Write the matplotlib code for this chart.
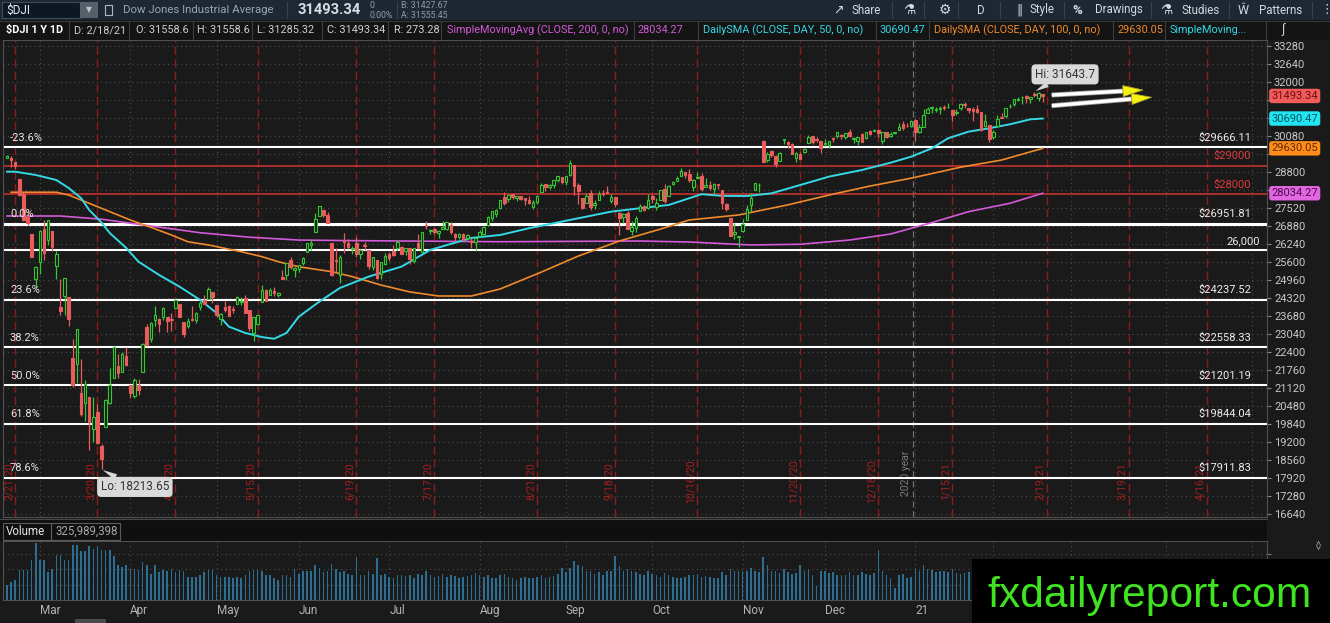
import numpy as np
import pandas as pd
import matplotlib
matplotlib.use("Agg")
import matplotlib.pyplot as plt
from matplotlib.patches import Rectangle, Polygon
from matplotlib.lines import Line2D
from matplotlib.transforms import blended_transform_factory, IdentityTransform

plt.rcParams["font.family"] = ["Roboto", "DejaVu Sans"]

# ---------------- data ----------------
start_day = "2020-02-19"
holidays = ["2020-04-10", "2020-05-25", "2020-07-03", "2020-09-07", "2020-11-26",
            "2020-12-25", "2021-01-01", "2021-01-18", "2021-02-15", "2021-04-02"]

opens = [
    29280, 29280, 29140, 28550, 28020, 27190, 26570, 24980,
    25590, 26760, 26380, 26690, 25460, 24000, 24380, 24360, 22180, 21970, 20930, 20570, 20800, 19650,
    20250, 19030, 19720, 20590, 21470, 21900, 21680, 22250,
    21230, 20820, 21230, 21690, 23280, 22860, 23510, 23550, 23650, 23650, 23580, 23940, 24100, 23440,
    23330, 23560, 23530, 24000, 24230, 24270, 24520,
    24070, 23580, 23990, 24010, 23910, 24080, 24150, 24300, 23870, 23060, 23400, 24180, 24580, 24400,
    24560, 24430, 25050, 25110, 25650, 25300,
    25340, 25560, 25930, 26180, 26640, 27230, 27450, 27250, 26280, 25660, 25120, 26330, 26280, 26040,
    26250, 25870, 26200, 26000, 25410, 25650, 25150, 25510,
    25880, 25970, 26070, 26140, 25970, 26070, 25610, 26250, 25960, 26910, 26700, 26770, 26630, 26780,
    26780, 26900, 26590, 26470, 26570, 26450, 26340, 26300,
    26510, 26590, 26910, 27170, 27280, 27500, 27900, 27820, 27990, 27870, 27940, 27850, 27790, 27560,
    27710, 28070, 28360, 28270, 28330, 28500, 28610,
    28440, 28680, 29040, 28340, 27860, 27690, 28030, 27620, 27790, 28060, 28090, 27770, 27900, 27340,
    27180, 27330, 26700, 26810, 27400, 27590, 27500,
    27940, 27540, 27780, 28200, 27950, 28360, 28480, 28640, 28780, 28730, 28250, 28590, 28650, 28270,
    28330, 28180, 28380, 28140, 27660, 27150, 26600, 26480,
    26690, 27100, 27620, 28160, 28320, 29900, 29230, 29550, 29350, 29190, 29920, 29840, 29780, 29280,
    29440, 29500, 29810, 30060, 29960, 29880,
    29800, 29740, 29980, 30060, 30120, 30030, 30220, 29950, 29880, 30130, 29990, 30250, 30260, 30290,
    29880, 30200, 30060, 30160, 30300, 30490, 30420, 30420,
    30630, 30200, 30400, 30900, 31050, 31000, 31020, 31090, 31090, 31000, 30890, 31050, 31220, 31070,
    31040, 31030, 30910, 30420, 30470,
    30050, 30420, 30740, 30770, 31130, 31200, 31350, 31440, 31490, 31390, 31580, 31430, 31558.6,
]
highs = [
    29410, 29370, 29140, 28550, 28090, 27430, 26570, 25450,
    26710, 27090, 27100, 26690, 25990, 24990, 25020, 24360, 22840, 23190, 22130, 21410, 20800, 20800,
    20530, 19120, 20710, 21830, 22600, 22330, 22380, 22560,
    21230, 21480, 21440, 22700, 23390, 23440, 24010, 23590, 24000, 23650, 23770, 24260, 24100, 23440,
    23610, 24040, 23800, 24190, 24420, 24690, 24520,
    24070, 23770, 24220, 24060, 24010, 24380, 24350, 24400, 23870, 23630, 23690, 24770, 24620, 24650,
    24700, 24520, 25300, 25550, 25760, 25410,
    25500, 25750, 26270, 26390, 27340, 27580, 27450, 27350, 26280, 26090, 25830, 26610, 26390, 26150,
    26480, 26060, 26290, 26000, 25760, 25650, 25600, 25910,
    25950, 26200, 26360, 26170, 26080, 26070, 26080, 26600, 26650, 27030, 26760, 26800, 26710, 27060,
    27010, 27000, 26630, 26620, 26610, 26600, 26430, 26430,
    26730, 26840, 27210, 27390, 27480, 27790, 28070, 28000, 28020, 27940, 27950, 27860, 27920, 27800,
    27960, 28390, 28360, 28360, 28500, 28660, 28620,
    28650, 29200, 29040, 28400, 27860, 28060, 28140, 27780, 28100, 28140, 28290, 27990, 27900, 27380,
    27330, 27390, 27050, 27210, 27660, 27610, 28000,
    28000, 27880, 28150, 28350, 28320, 28470, 28630, 28920, 28790, 28910, 28540, 28790, 28750, 28580,
    28470, 28410, 28380, 28140, 27690, 27150, 26960, 26530,
    27120, 27600, 28030, 28390, 28400, 29930, 29500, 29570, 29390, 29490, 29960, 29900, 29820, 29500,
    29510, 29660, 30120, 30070, 30030, 29880,
    29950, 29880, 30020, 30220, 30130, 30190, 30320, 30020, 30050, 30170, 30200, 30270, 30320, 30290,
    30220, 30220, 30200, 30210, 30520, 30600, 30520, 30640,
    30680, 30500, 31020, 31110, 31150, 31100, 31150, 31180, 31230, 31000, 31020, 31240, 31270, 31070,
    31090, 31160, 30910, 30850, 30470,
    30280, 30800, 30870, 31060, 31210, 31390, 31470, 31500, 31530, 31460, 31643.7, 31620, 31558.6,
]
lows = [
    29280, 28960, 28880, 27930, 27060, 26920, 25760, 24680,
    25170, 25650, 26200, 25980, 24990, 23710, 23690, 23330, 21150, 21290, 20120, 19940, 18920, 19180,
    19120, 18213.65, 19720, 20540, 21470, 21460, 21680, 21890,
    20740, 20740, 20860, 21690, 22600, 22760, 23330, 23090, 23540, 23090, 23150, 23940, 23620, 22940,
    23250, 23480, 23420, 23900, 24080, 24270, 24140,
    23650, 23360, 23820, 23660, 23760, 24080, 24060, 23760, 23120, 22790, 23360, 24180, 24200, 24400,
    24380, 24330, 24980, 24960, 25330, 25060,
    25220, 25470, 25930, 26030, 26640, 27230, 27190, 26980, 25080, 25220, 24840, 25900, 26060, 25880,
    25760, 25710, 26000, 25350, 25290, 25000, 24990, 25480,
    25640, 25790, 26020, 25880, 25850, 25530, 25550, 26060, 25940, 26750, 26580, 26600, 26460, 26780,
    26740, 26580, 26340, 26400, 26380, 26380, 26100, 26020,
    26500, 26560, 26860, 27060, 27180, 27460, 27630, 27740, 27820, 27760, 27790, 27620, 27650, 27480,
    27640, 28070, 28130, 28170, 28210, 28440, 28360,
    28340, 28660, 27960, 27660, 27460, 27690, 27440, 27480, 27790, 27920, 28030, 27690, 27530, 26540,
    26990, 26750, 26540, 26660, 27400, 27390, 27480,
    27690, 27430, 27780, 27680, 27950, 28320, 28460, 28630, 28590, 28420, 28100, 28570, 28130, 28270,
    28160, 28000, 28170, 27480, 27400, 26520, 26400, 26140,
    26660, 27100, 27370, 28140, 28070, 29140, 29140, 29340, 28950, 29190, 29780, 29650, 29440, 29150,
    29260, 29450, 29810, 29790, 29860, 29460,
    29710, 29650, 29860, 30000, 29970, 29980, 30030, 29830, 29760, 29860, 29980, 30100, 30240, 30030,
    29800, 30000, 30050, 30130, 30300, 30280, 30390, 30380,
    29880, 30170, 30400, 30880, 30870, 30920, 30860, 30980, 31080, 30610, 30830, 31000, 31080, 30900,
    30610, 30890, 30240, 30400, 29860,
    29970, 30400, 30700, 30720, 31050, 31150, 31300, 31190, 31240, 31260, 31440, 31330, 31285.32,
]
closes = [
    29350, 29220, 28990, 27960, 27080, 26960, 25770, 25410,
    26700, 25920, 27090, 26120, 25860, 23850, 25020, 23550, 21200, 23190, 20190, 21240, 19900, 20090,
    19170, 18590, 20700, 21200, 22550, 21640, 22330, 21920,
    20940, 21410, 21050, 22680, 22650, 23430, 23720, 23390, 23950, 23500, 23540, 24240, 23650, 23020,
    23480, 23520, 23780, 24130, 24100, 24630, 24350,
    23720, 23750, 23880, 23660, 23880, 24330, 24220, 23760, 23250, 23630, 23690, 24600, 24210, 24580,
    24470, 24470, 25000, 25550, 25400, 25380,
    25480, 25740, 26270, 26280, 27110, 27570, 27270, 26990, 25130, 25610, 25760, 26290, 26120, 26080,
    25870, 26020, 26160, 25450, 25750, 25020, 25600, 25810,
    25730, 25830, 26290, 25890, 26070, 25710, 26080, 26090, 26640, 26870, 26730, 26670, 26680, 26840,
    27010, 26650, 26470, 26580, 26380, 26540, 26310, 26430,
    26660, 26830, 27200, 27390, 27430, 27790, 27690, 27980, 27900, 27930, 27840, 27780, 27690, 27740,
    27930, 28310, 28250, 28330, 28490, 28650, 28430,
    28650, 29100, 28290, 28130, 27500, 27940, 27530, 27670, 27990, 28000, 28030, 27900, 27660, 27150,
    27290, 26760, 26820, 27170, 27580, 27450, 27780,
    27820, 27680, 28150, 27770, 28300, 28430, 28590, 28840, 28680, 28510, 28490, 28610, 28200, 28310,
    28210, 28360, 28340, 27690, 27460, 26520, 26660, 26500,
    26930, 27480, 27850, 28390, 28320, 29160, 29420, 29400, 29080, 29480, 29950, 29780, 29440, 29480,
    29260, 29590, 30050, 29870, 29910, 29640,
    29820, 29880, 29970, 30220, 30070, 30170, 30070, 30000, 30050, 29860, 30200, 30150, 30300, 30180,
    30220, 30020, 30130, 30200, 30400, 30340, 30410, 30610,
    30220, 30390, 30830, 31040, 31100, 31010, 31070, 31060, 31110, 30810, 30930, 31190, 31180, 31000,
    30960, 30940, 30300, 30600, 29980,
    30210, 30690, 30720, 31060, 31150, 31390, 31380, 31440, 31430, 31460, 31520, 31610, 31493.34,
]
volumes_m = [
    193, 236, 258, 386, 386, 386, 515, 743,
    515, 515, 365, 408, 580, 580, 515, 515, 708, 708, 631, 631, 700, 665, 700, 644, 644, 644, 571, 460, 429, 451,
    408, 408, 386, 494, 451, 343, 451, 365, 386, 373, 408, 365, 386, 373, 300, 300, 300, 322, 365, 386, 386,
    322, 300, 300, 300, 279, 300, 288, 322, 373, 386, 386, 373, 322, 322, 279, 258, 322, 322, 300, 408,
    343, 380, 380, 370, 450, 420, 360, 380, 470, 400, 360, 380, 340, 330, 555, 330, 320, 380, 340, 540, 330, 340,
    300, 280, 320, 330, 310, 320, 290, 340, 330, 380, 320, 300, 310, 340, 300, 320, 310, 290, 300, 310, 320, 350,
    320, 300, 330, 290, 280, 330, 340, 300, 290, 260, 280, 300, 290, 280, 300, 320, 290, 300, 310, 340, 420,
    360, 420, 500, 450, 440, 380, 380, 340, 360, 330, 370, 380, 565, 440, 370, 400, 370, 360, 340, 330, 380,
    340, 330, 300, 350, 320, 300, 290, 280, 300, 320, 320, 340, 300, 310, 300, 290, 280, 360, 330, 400, 370, 380,
    370, 380, 420, 380, 360, 555, 450, 380, 370, 350, 400, 360, 340, 350, 455, 370, 400, 330, 180, 380,
    380, 350, 360, 320, 330, 320, 360, 330, 320, 360, 340, 330, 350, 650, 380, 320, 290, 150, 330, 340, 290, 300,
    400, 380, 450, 400, 390, 360, 370, 380, 360, 400, 350, 340, 350, 360, 380, 360, 450, 420, 410,
    360, 350, 330, 340, 320, 340, 330, 350, 320, 310, 380, 350, 325.989398,
]

# moving averages, read at intervals (bar index, value)
sma50_idx = [0, 2, 7, 12, 15, 18, 20, 23, 25, 29, 32, 37, 42, 47, 51, 54, 58, 62, 65, 68, 71, 76, 81,
             88, 96, 103, 113, 120, 127, 137, 147, 154, 161, 169, 174, 180, 186, 193, 200, 208, 215,
             220, 225, 229, 234, 239, 244, 249, 252]
sma50_val = [28800, 28800, 28683, 28505, 28220, 27865, 27440, 26990, 26620, 26090, 25600, 25130, 24710,
             24240, 23775, 23290, 23065, 22920, 22860, 23065, 23645, 24180, 24665, 25070, 25425, 26020,
             26445, 26550, 26790, 27085, 27380, 27500, 27617, 28000, 27940, 27935, 28030, 28327, 28625,
             28860, 29120, 29335, 29630, 29990, 30225, 30345, 30485, 30663, 30690.47]
sma100_idx = [1, 12, 15, 20, 25, 30, 35, 40, 44, 49, 57, 62, 66, 71, 79, 84, 91, 98, 105, 113, 120, 130,
              139, 149, 159, 166, 178, 190, 200, 210, 220, 232, 242, 252]
sma100_val = [28070, 28070, 27970, 27676, 27380, 27083, 26823, 26550, 26310, 26195, 25955, 25780, 25600,
              25420, 25245, 25070, 24770, 24525, 24380, 24380, 24630, 25230, 25800, 26335, 26760, 27083,
              27262, 27620, 27970, 28290, 28570, 28960, 29215, 29630.05]
sma200_idx = [0, 13, 23, 35, 47, 59, 71, 83, 120, 154, 166, 181, 193, 205, 215, 225, 234, 244, 252]
sma200_val = [27225, 27225, 27110, 26870, 26630, 26470, 26370, 26350, 26310, 26335, 26300, 26195, 26220,
              26370, 26585, 26990, 27380, 27676, 28034.27]

fib_labels = ["-23.6%", "0.0%", "23.6%", "38.2%", "50.0%", "61.8%", "78.6%"]
fib_values = [29666.11, 26951.81, 24237.52, 22558.33, 21201.19, 19844.04, 17911.83]
round_level = 26000
red_levels = [29000, 28000]

expiry_dates = ["2020-02-21", "2020-03-20", "2020-04-17", "2020-05-15", "2020-06-19", "2020-07-17",
                "2020-08-21", "2020-09-18", "2020-10-16", "2020-11-20", "2020-12-18", "2021-01-15",
                "2021-02-19", "2021-03-19", "2021-04-16"]

# annotation arrows drawn on the chart (bar index, price)
arrow_tails = [(254.2, 31527), (254.2, 31147)]
arrow_heads = [(276.4, 31705), (278.5, 31445)]

# ---------------- styling ----------------
W, H = 1330, 623
BG = "#1a1a1a"
GREEN = "#35c835"
RED = "#e85c5c"
CYAN = "#35d8e6"
ORANGE = "#f08a2c"
MAGENTA = "#d35ad8"
GRID = "#4d4d4d"
AXTXT = "#c8c8c8"
WM_LEFT = 972  # left edge of the watermark box, px

cal = pd.bdate_range(start_day, "2021-05-14", freq="C", holidays=holidays)
n = len(closes)
assert len(opens) == len(highs) == len(lows) == len(volumes_m) == n
x = np.arange(n)
o = np.array(opens, float)
h = np.array(highs, float)
l = np.array(lows, float)
c = np.array(closes, float)

month_pos = [i for i in range(1, len(cal)) if cal[i].month != cal[i - 1].month]
month_lbl = ["21" if cal[i].month == 1 else cal[i].strftime("%b") for i in month_pos]
exp_pos = [cal.get_loc(pd.Timestamp(d)) for d in expiry_dates]
exp_lbl = [f"{d.month}/{d.day}/{d.year % 100}" for d in pd.to_datetime(expiry_dates)]
year_pos = [i - 0.5 for i in month_pos if cal[i].month == 1]

fig = plt.figure(figsize=(W / 100, H / 100), dpi=100, facecolor=BG)


def px_box(x0, y0, x1, y1):
    return [x0 / W, 1 - y1 / H, (x1 - x0) / W, (y1 - y0) / H]


def frect(x0, y0, x1, y1, **kw):
    fig.add_artist(Rectangle((x0 / W, 1 - y1 / H), (x1 - x0) / W, (y1 - y0) / H,
                             transform=fig.transFigure, **kw))


def fline(x0, y0, x1, y1, **kw):
    fig.add_artist(Line2D([x0 / W, x1 / W], [1 - y0 / H, 1 - y1 / H], transform=fig.transFigure, **kw))


def ftext(x, y, s, **kw):
    kw.setdefault("va", "center")
    fig.text(x / W, 1 - y / H, s, **kw)


# ---------------- main price panel ----------------
XMIN = -0.97
XMAX = XMIN + 1264 / 4.11
YMIN, YMAX = 16522, 33483
ax = fig.add_axes(px_box(3, 40, 1267, 517))
ax.set_facecolor(BG)
ax.set_xlim(XMIN, XMAX)
ax.set_ylim(YMIN, YMAX)
for s in ax.spines.values():
    s.set_color("#505050")
ax.set_xticks([])

# last-value boxes on the price scale cover some scale labels
last_boxes = [(c[-1], "#f25b5b", "#6e0c0c"), (sma50_val[-1], "#22e4f2", "#05555e"),
              (sma100_val[-1], "#ff8c1a", "#5c2a00"), (sma200_val[-1], "#e267e2", "#4e0a4e")]
per_px = (YMAX - YMIN) / 477
ax.yaxis.tick_right()
yt = np.arange(16640, 33281, 640)
ax.set_yticks(yt)
ax.set_yticklabels(["" if any(abs(v - b[0]) < 9 * per_px for b in last_boxes) else str(v) for v in yt])
ax.tick_params(axis="y", colors="#888", labelcolor=AXTXT, labelsize=8, length=3, pad=2)
for v in yt:
    ax.axhline(v, color=GRID, lw=0.8, ls=(0, (1, 3)), zorder=0.5)
for p in month_pos:
    ax.axvline(p, color=GRID, lw=0.8, ls=(0, (1, 3)), zorder=0.5)

bt = blended_transform_factory(ax.transData, ax.transAxes)
for p, lb in zip(exp_pos, exp_lbl):
    ax.axvline(p, color="#8c1c1c", lw=1.0, ls=(0, (6, 3)), zorder=1)
    ax.text(p - 0.4, 0.0755, lb, transform=bt, rotation=90, ha="right", va="center",
            color="#a81e1e", fontsize=7.5, zorder=1)
for p in year_pos:
    ax.axvline(p, color="#707070", lw=0.9, ls=(0, (5, 3)), zorder=1)
    ax.text(p - 0.6, 0.092, "2020 year", transform=bt, rotation=90, ha="right", va="center",
            color="#7a7a7a", fontsize=7.5, zorder=1)

# horizontal levels
ba = blended_transform_factory(ax.transAxes, ax.transData)
for lb, v in zip(fib_labels, fib_values):
    ax.axhline(v, color="white", lw=2.2 if lb == "0.0%" else 1.5, zorder=2)
    ax.annotate(lb, xy=(0.0055, v), xycoords=ba, xytext=(0, 7), textcoords="offset points",
                color="#e6e6e6", fontsize=8, va="center", ha="left", zorder=6)
    ax.annotate(f"${v:.2f}", xy=(0.9873, v), xycoords=ba, xytext=(0, 7), textcoords="offset points",
                color="#ececec", fontsize=8, va="center", ha="right", zorder=6)
ax.axhline(round_level, color="white", lw=1.5, zorder=2)
ax.annotate(f"{round_level:,}", xy=(0.9945, round_level), xycoords=ba, xytext=(0, 7),
            textcoords="offset points", color="#ececec", fontsize=8, va="center", ha="right", zorder=6)
for v in red_levels:
    ax.axhline(v, color="#d23434", lw=1.1, zorder=2)
    ax.annotate(f"${v}", xy=(0.9873, v), xycoords=ba, xytext=(0, 7), textcoords="offset points",
                color="#e03a3a", fontsize=8, va="center", ha="right", zorder=6)

# moving averages
ax.plot(sma200_idx, sma200_val, color=MAGENTA, lw=1.2, zorder=3)
ax.plot(sma100_idx, sma100_val, color=ORANGE, lw=1.2, zorder=3)
ax.plot(sma50_idx, sma50_val, color=CYAN, lw=1.4, zorder=3)

# candles
up = c >= o
col = np.where(up, GREEN, RED)
ax.vlines(x, np.minimum(l, np.minimum(o, c)), np.maximum(h, np.maximum(o, c)), colors=col, lw=0.9, zorder=4)
body = np.maximum(np.abs(c - o), 20)
ax.bar(x, body, bottom=np.minimum(o, c), width=0.62, color=np.where(up, BG, RED), edgecolor=col,
       lw=0.8, zorder=5)

# hi / lo call-outs
ihi = int(np.argmax(h))
ilo = int(np.argmin(l))
bubble = dict(boxstyle="round,pad=0.3,rounding_size=0.35", fc="#d9d9d9", ec="none")
ax.annotate(f"Hi: {h[ihi]:g}", xy=(ihi, h[ihi]), xytext=(22, 12.5), textcoords="offset points",
            ha="center", va="center", fontsize=8.5, color="#333", bbox=bubble, zorder=9,
            arrowprops=dict(arrowstyle="wedge,tail_width=0.5", fc="#d9d9d9", ec="none",
                            shrinkA=0, shrinkB=1))
ax.annotate(f"Lo: {l[ilo]:.2f}", xy=(ilo, l[ilo]), xytext=(24, -12.6), textcoords="offset points",
            ha="center", va="center", fontsize=8.5, color="#333", bbox=bubble, zorder=9,
            arrowprops=dict(arrowstyle="wedge,tail_width=0.5", fc="#d9d9d9", ec="none",
                            shrinkA=0, shrinkB=1))

for v, fc, tc in last_boxes:
    ax.text(1.0035, v, f"{v:.2f}", transform=ba, fontsize=8, color=tc, va="center", ha="left",
            bbox=dict(boxstyle="round,pad=0.2,rounding_size=0.25", fc=fc, ec="none"),
            zorder=12, clip_on=False)

# yellow arrows
for tail, head in zip(arrow_tails, arrow_heads):
    p0 = ax.transData.transform(tail)
    p1 = ax.transData.transform(head)
    u = (p1 - p0) / np.hypot(*(p1 - p0))
    nv = np.array([-u[1], u[0]])
    base = p1 - u * 20
    fig.add_artist(Line2D([p0[0], base[0]], [p0[1], base[1]], transform=IdentityTransform(),
                          color="#9a9a9a", lw=3.6, zorder=8, solid_capstyle="butt"))
    fig.add_artist(Line2D([p0[0], base[0]], [p0[1], base[1]], transform=IdentityTransform(),
                          color="white", lw=2.4, zorder=8, solid_capstyle="butt"))
    fig.add_artist(Polygon([p1, base + nv * 5.5, base - nv * 5.5], closed=True,
                           transform=IdentityTransform(), fc="#f6f20e", ec="#a5a230", lw=0.6, zorder=9))

# ---------------- volume panel ----------------
vx = fig.add_axes(px_box(3, 541, 1267, 600))
vx.set_facecolor(BG)
vx.set_xlim(XMIN, XMAX)
vx.set_ylim(0, 765)
for s in vx.spines.values():
    s.set_color("#505050")
vx.bar(x, volumes_m, width=0.38, color="#2c6f93", zorder=3)
for v in (200, 400, 600):
    vx.axhline(v, color=GRID, lw=0.8, ls=(0, (1, 3)), zorder=1)
for p in month_pos:
    vx.axvline(p, color=GRID, lw=0.8, ls=(0, (1, 3)), zorder=1)
vx.yaxis.tick_right()
vx.set_yticks([200, 400, 600])
vx.set_yticklabels([])
vx.tick_params(axis="y", colors="#777", length=3)
# month names that the watermark box would hide are left out
i_cut = XMIN + (WM_LEFT - 3) * (XMAX - XMIN) / 1264
shown = [(p, m) for p, m in zip(month_pos, month_lbl) if p < i_cut - 4]
vx.set_xticks([p for p, _ in shown])
vx.set_xticklabels([m for _, m in shown], ha="left")
vx.tick_params(axis="x", length=0, pad=3, labelsize=8.5, labelcolor="#b4b4b4")

# ---------------- header rows / chrome ----------------
frect(0, 0, W, 20, fc="#1d2833", ec="none")
frect(2, 2, 80, 18, fc="#0e1822", ec="#3d4c5b", lw=0.8)
ftext(6, 10, "$DJI", color="#e4ecf4", fontsize=8.5)
frect(80, 2, 98, 18, fc="#56606a", ec="none")
ftext(89, 10, "\u25BC", color="#c4c4c4", fontsize=5.5, ha="center")
frect(105, 5, 112, 15, fc="none", ec="#b0b8c0", lw=0.8)
ftext(123, 10, "Dow Jones Industrial Average", color="#97a6b4", fontsize=8.2)
fline(287, 2, 287, 18, color="#34424f", lw=0.8)
ftext(297, 10, f"{c[-1]:.2f}", color="#d6dee6", fontsize=10.5, fontweight="bold")
ftext(369, 6, "0", color="#8e9ba7", fontsize=6.3)
ftext(369, 15, "0.00%", color="#8e9ba7", fontsize=6.3)
fline(397, 2, 397, 18, color="#34424f", lw=0.8)
ftext(401, 6, "B: 31427.67", color="#8e9ba7", fontsize=6.3)
ftext(401, 15, "A: 31555.45", color="#8e9ba7", fontsize=6.3)

tool = [(833, "\u2197", 9), (852, "Share", 8.3), (903, "\u2697", 10), (939, "\u2699", 10),
        (977, "D", 8.3), (1016, "\u2016", 9), (1030, "Style", 8.3), (1072, "%", 9.5),
        (1095, "Drawings", 8.3), (1160, "\u2697", 10), (1182, "Studies", 8.3),
        (1238, "\u0174", 9), (1259, "Patterns", 8.3), (1320, "\u22EE", 9)]
for tx, s, fs in tool:
    ftext(tx, 10, s, color="#d2dae2", fontsize=fs, fontweight="bold" if s == "%" else "normal")
for sx in (892, 924, 958, 1000, 1064, 1151, 1229, 1312):
    fline(sx, 2, sx, 18, color="#34424f", lw=0.8)

frect(0, 20, W, 40, fc="#141414", ec="none")
fline(0, 20.5, W, 20.5, color="#3a3a3a", lw=0.8)
hdr = [(6, "$DJI 1 Y 1D", "white", "bold"),
       (74, "D: 2/18/21", "#cfcfcf", "normal"),
       (136, f"O: {o[-1]:g}", "#cfcfcf", "normal"),
       (197, f"H: {h[-1]:g}", "#cfcfcf", "normal"),
       (257, f"L: {l[-1]:.2f}", "#cfcfcf", "normal"),
       (327, f"C: {c[-1]:.2f}", "#cfcfcf", "normal"),
       (394, f"R: {h[-1] - l[-1]:.2f}", "#cfcfcf", "normal"),
       (447, "SimpleMovingAvg (CLOSE, 200, 0, no)", MAGENTA, "normal"),
       (637, f"{sma200_val[-1]:.2f}", MAGENTA, "normal"),
       (703, "DailySMA (CLOSE, DAY, 50, 0, no)", CYAN, "normal"),
       (879, f"{sma50_val[-1]:.2f}", CYAN, "normal"),
       (934, "DailySMA (CLOSE, DAY, 100, 0, no)", ORANGE, "normal"),
       (1117, f"{sma100_val[-1]:.2f}", ORANGE, "normal"),
       (1170, "SimpleMoving...", CYAN, "normal")]
for tx, s, cc, fw in hdr:
    ftext(tx, 30, s, color=cc, fontsize=7.8, fontweight=fw)
for sx in (69, 129, 193, 252, 322, 388, 441, 634, 698, 876, 929, 1113, 1165, 1266):
    fline(sx, 21, sx, 39, color="#3e3e3e", lw=0.8)
ftext(1283, 30, "\u222B", color="#d0d0d0", fontsize=9, ha="center")

frect(0, 519, 1267, 541, fc="#0f0f0f", ec="none")
fline(0, 519, 1267, 519, color="#4a4a4a", lw=0.8)
frect(3, 523, 51, 540, fc="none", ec="#5c5c5c", lw=0.8)
ftext(6, 531.5, "Volume", color="#e4e4e4", fontsize=8.3)
frect(51, 523, 120, 540, fc="none", ec="#5c5c5c", lw=0.8)
ftext(55, 531.5, f"{round(volumes_m[-1] * 1e6):,}", color="#a8a8a8", fontsize=8.3)

frect(75, 619, 106, 623, fc="#4a4a4a", ec="none")
ftext(1318, 545, "<>", color="#9a9a9a", fontsize=7, rotation=-90, ha="center")

# watermark
frect(WM_LEFT, 559, W, H, fc="black", ec="none", zorder=20)
ftext(1150, 607, "fxdailyreport.com", color="#3fe31f", fontsize=30.7, family="Liberation Sans",
      ha="center", va="baseline", zorder=21)

fig.savefig("out.png", dpi=100, facecolor=BG)
